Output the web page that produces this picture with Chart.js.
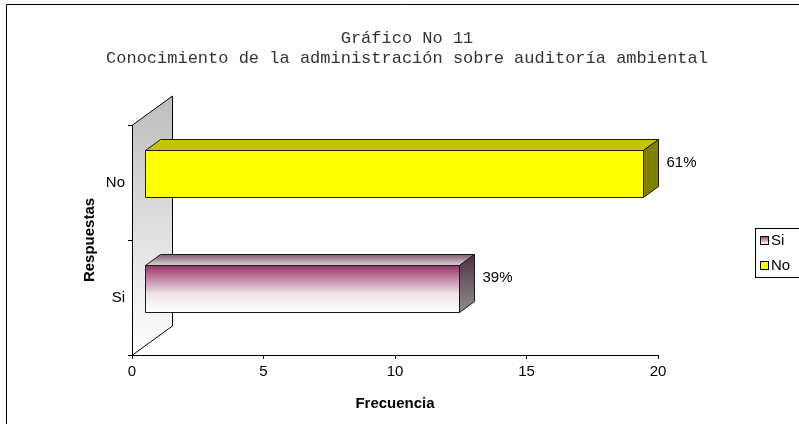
<!DOCTYPE html>
<html>
<head>
<meta charset="utf-8">
<script src="https://cdn.jsdelivr.net/npm/chart.js@4.4.0/dist/chart.umd.min.js"></script>
<style>
  html, body { margin: 0; padding: 0; background: #fff; }
</style>
</head>
<body>
<canvas id="chart" width="799" height="424"></canvas>
<script>
// data
var categories = ['Si', 'No'];
var frecuencia = [12, 19];
var xMax = 20;
var xStep = 5;
var titleLines = ['Gráfico No 11', 'Conocimiento de la administración sobre auditoría ambiental'];
var xTitle = 'Frecuencia';
var yTitle = 'Respuestas';

// 3d look
var FRONT_X = 12, FRONT_Y = -9;   // bar front face offset from the axis plane
var DEPTH_X = 15, DEPTH_Y = -11;  // bar depth
var WALL_X = 40, WALL_Y = -29;    // back wall depth

var total = frecuencia.reduce(function (a, b) { return a + b; }, 0);
var LABEL_FONT = '15px "Liberation Sans", Arial, sans-serif';

function poly(ctx, pts, fill) {
    ctx.beginPath();
    ctx.moveTo(pts[0][0], pts[0][1]);
    for (var i = 1; i < pts.length; i++) ctx.lineTo(pts[i][0], pts[i][1]);
    ctx.closePath();
    ctx.fillStyle = fill;
    ctx.fill();
    ctx.stroke();
}

function barFaces(ctx, i, l, r, t, b) {
    if (categories[i] === 'No') {
        return { front: '#ffff00', top: '#c4c400', side: '#808000' };
    }
    var front = ctx.createLinearGradient(0, t, 0, b);
    front.addColorStop(0, '#993366');
    front.addColorStop(0.6, '#eee2e8');
    front.addColorStop(1, '#ffffff');
    var top = ctx.createLinearGradient(0, t + DEPTH_Y, 0, t);
    top.addColorStop(0, '#8a5a72');
    top.addColorStop(1, '#d8d4d6');
    var side = ctx.createLinearGradient(0, t + DEPTH_Y, 0, b);
    side.addColorStop(0, '#4f3242');
    side.addColorStop(1, '#8e8e8e');
    return { front: front, top: top, side: side };
}

var backdrop = {
    id: 'backdrop',
    beforeDraw: function (chart) {
        var ctx = chart.ctx, a = chart.chartArea;
        ctx.save();
        ctx.fillStyle = '#ffffff';
        ctx.fillRect(0, 0, chart.width, chart.height);
        // back wall
        var l = a.left + 0.5, t = a.top, b = a.bottom;
        var g = ctx.createLinearGradient(0, t + WALL_Y, 0, b);
        g.addColorStop(0, '#bdbdbd');
        g.addColorStop(1, '#ffffff');
        ctx.strokeStyle = '#000';
        ctx.lineWidth = 1;
        poly(ctx, [[l, t], [l + WALL_X, t + WALL_Y], [l + WALL_X, b + WALL_Y], [l, b]], g);
        ctx.restore();
    },
    afterDatasetsDraw: function (chart) {
        var ctx = chart.ctx;
        var meta = chart.getDatasetMeta(0);
        ctx.save();
        ctx.strokeStyle = '#1a1a1a';
        ctx.lineWidth = 1;
        meta.data.forEach(function (el, i) {
            var p = el.getProps(['x', 'y', 'base', 'height'], true);
            var l = Math.round(p.base + FRONT_X) + 0.5;
            var r = Math.round(p.x + FRONT_X - 1) + 0.5;
            var t = Math.round(p.y - p.height / 2 + FRONT_Y) + 0.5;
            var b = Math.round(p.y + p.height / 2 + FRONT_Y) + 0.5;
            var f = barFaces(ctx, i, l, r, t, b);
            poly(ctx, [[l, t], [l + DEPTH_X, t + DEPTH_Y], [r + DEPTH_X, t + DEPTH_Y], [r, t]], f.top);
            poly(ctx, [[r, t], [r + DEPTH_X, t + DEPTH_Y], [r + DEPTH_X, b + DEPTH_Y], [r, b]], f.side);
            poly(ctx, [[l, t], [r, t], [r, b], [l, b]], f.front);
            // percent label
            ctx.fillStyle = '#000';
            ctx.font = LABEL_FONT;
            ctx.textAlign = 'left';
            ctx.textBaseline = 'middle';
            ctx.fillText(Math.round(frecuencia[i] / total * 100) + '%', r + DEPTH_X + 8, p.y - 20);
        });
        ctx.restore();
    },
    afterDraw: function (chart) {
        var ctx = chart.ctx;
        ctx.save();
        // title
        ctx.fillStyle = '#333';
        ctx.font = '17px "Liberation Mono", "Courier New", monospace';
        ctx.textAlign = 'center';
        ctx.textBaseline = 'middle';
        titleLines.forEach(function (line, i) {
            ctx.fillText(line, 407, 38 + i * 20);
        });
        // legend
        ctx.strokeStyle = '#000';
        ctx.lineWidth = 1;
        ctx.strokeRect(755.5, 228.5, 80, 49);
        ctx.font = LABEL_FONT;
        ctx.textAlign = 'left';
        categories.forEach(function (c, i) {
            var y = 236 + i * 25;
            var fill;
            if (c === 'No') {
                fill = '#ffff00';
            } else {
                fill = ctx.createLinearGradient(0, y, 0, y + 8);
                fill.addColorStop(0, '#993366');
                fill.addColorStop(1, '#ffffff');
            }
            ctx.fillStyle = fill;
            ctx.fillRect(760.5, y + 0.5, 8, 8);
            ctx.strokeRect(760.5, y + 0.5, 8, 8);
            ctx.fillStyle = '#000';
            ctx.fillText(c, 771, y + 5);
        });
        // outer frame
        ctx.beginPath();
        ctx.moveTo(6.5, 424);
        ctx.lineTo(6.5, 4.5);
        ctx.lineTo(799, 4.5);
        ctx.stroke();
        ctx.restore();
    }
};

Chart.defaults.font.family = '"Liberation Sans", Arial, sans-serif';
Chart.defaults.font.size = 15;
Chart.defaults.color = '#000';

new Chart(document.getElementById('chart'), {
    type: 'bar',
    data: {
        labels: categories,
        datasets: [{
            label: 'Frecuencia',
            data: frecuencia,
            backgroundColor: 'rgba(0,0,0,0)',
            borderWidth: 0,
            barThickness: 47
        }]
    },
    options: {
        indexAxis: 'y',
        responsive: false,
        animation: false,
        devicePixelRatio: 1,
        layout: { padding: { top: 125, right: 141, left: 0, bottom: 0 } },
        plugins: {
            legend: { display: false },
            tooltip: { enabled: false },
            title: { display: false }
        },
        scales: {
            x: {
                type: 'linear',
                min: 0,
                max: xMax,
                ticks: { stepSize: xStep, padding: 4, color: '#000' },
                grid: { drawOnChartArea: false, tickLength: 4, color: '#000' },
                border: { color: '#000' },
                title: {
                    display: true, text: xTitle, color: '#000',
                    font: { weight: 'bold', size: 15 },
                    padding: { top: 0, bottom: 11 }
                },
                afterFit: function (axis) { axis.height = 69; }
            },
            y: {
                type: 'category',
                reverse: true,
                ticks: { padding: 3, color: '#000' },
                grid: { drawOnChartArea: false, tickLength: 4, color: '#000' },
                border: { color: '#000' },
                title: {
                    display: true, text: yTitle, color: '#000',
                    font: { weight: 'bold', size: 15 },
                    padding: { top: 81, bottom: 0 }
                },
                afterFit: function (axis) { axis.width = 132; }
            }
        }
    },
    plugins: [backdrop]
});
</script>
</body>
</html>
